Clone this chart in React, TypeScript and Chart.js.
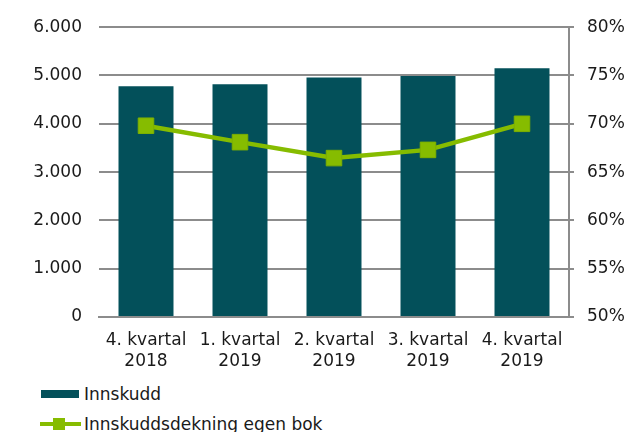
import React, { useEffect, useRef } from "react";
import { Chart, registerables } from "chart.js";

Chart.register(...registerables);

const categories: string[][] = [
  ["4. kvartal", "2018"],
  ["1. kvartal", "2019"],
  ["2. kvartal", "2019"],
  ["3. kvartal", "2019"],
  ["4. kvartal", "2019"],
];
const innskudd: number[] = [4780, 4820, 4960, 4990, 5150];
const dekning: number[] = [69.8, 68.1, 66.45, 67.3, 70.0];
const leftTicks: number[] = [0, 1000, 2000, 3000, 4000, 5000, 6000];
const rightTicks: number[] = [50, 55, 60, 65, 70, 75, 80];

const BAR = "#03505A";
const GREEN = "#86BC00";
const GRID = "#8C8C8C";
const TEXT = "#1a1a1a";
const FONT = "'DejaVu Sans', sans-serif";

export default function App() {
  const ref = useRef<HTMLCanvasElement | null>(null);
  useEffect(() => {
    if (!ref.current) return;
    const chart = new Chart(ref.current, {
      data: {
        labels: categories,
        datasets: [
          {
            type: "line",
            label: "Innskuddsdekning egen bok",
            data: dekning,
            yAxisID: "y1",
            borderColor: GREEN,
            backgroundColor: GREEN,
            borderWidth: 4.5,
            pointStyle: "rect",
            pointRadius: 11,
            pointBorderWidth: 1,
            pointBackgroundColor: GREEN,
            pointBorderColor: "#7DB000",
            order: 0,
          },
          {
            type: "bar",
            label: "Innskudd",
            data: innskudd,
            yAxisID: "y",
            backgroundColor: BAR,
            barPercentage: 0.585,
            categoryPercentage: 1,
            order: 1,
          },
        ],
      },
      options: {
        animation: false,
        responsive: false,
        maintainAspectRatio: false,
        layout: { padding: { top: 23.5, left: 0, right: 0, bottom: 0 } },
        plugins: { legend: { display: false }, tooltip: { enabled: false } },
        scales: {
          x: {
            grid: { display: false },
            border: { display: true, color: GRID, width: 2 },
            ticks: {
              color: TEXT,
              font: { family: FONT, size: 17, lineHeight: 1.18 },
              padding: 6,
              maxRotation: 0,
              autoSkip: false,
            },
            afterFit: (s: any) => {
              s.height = 63;
            },
          },
          y: {
            position: "left",
            min: 0,
            max: 6000,
            afterBuildTicks: (s: any) => {
              s.ticks = leftTicks.map((v) => ({ value: v }));
            },
            grid: { color: GRID, lineWidth: 2, drawTicks: false },
            border: { display: false },
            ticks: {
              color: TEXT,
              font: { family: FONT, size: 17 },
              padding: 17,
              callback: (v: any) => (v === 0 ? "0" : (Number(v) / 1000).toFixed(3)),
            },
            afterFit: (s: any) => {
              s.width = 99;
            },
          },
          y1: {
            position: "right",
            min: 50,
            max: 80,
            afterBuildTicks: (s: any) => {
              s.ticks = rightTicks.map((v) => ({ value: v }));
            },
            grid: { drawOnChartArea: false, drawTicks: true, tickLength: 5, color: GRID, lineWidth: 2 },
            border: { display: true, color: GRID, width: 2 },
            ticks: {
              color: TEXT,
              font: { family: FONT, size: 17 },
              padding: 13,
              callback: (v: any) => v + "%",
            },
            afterFit: (s: any) => {
              s.width = 56;
            },
          },
        },
      },
    } as any);
    return () => chart.destroy();
  }, []);

  const textStyle: React.CSSProperties = {
    fontFamily: FONT,
    fontSize: 17,
    color: TEXT,
    position: "absolute",
    left: 84,
    lineHeight: "20px",
    whiteSpace: "nowrap",
  };

  return (
    <div style={{ position: "fixed", left: 0, top: 0, width: 625, height: 432, background: "#fff", overflow: "hidden" }}>
      <canvas ref={ref} width={625} height={380} style={{ display: "block", width: 625, height: 380 }} />
      <div style={{ position: "absolute", left: 41, top: 390, width: 38, height: 8, background: BAR }} />
      <div style={{ ...textStyle, top: 384 }}>Innskudd</div>
      <div style={{ position: "absolute", left: 40, top: 422, width: 41, height: 4, background: GREEN }} />
      <div style={{ position: "absolute", left: 53, top: 418, width: 12, height: 12, background: GREEN }} />
      <div style={{ ...textStyle, top: 414 }}>Innskuddsdekning egen bok</div>
    </div>
  );
}
